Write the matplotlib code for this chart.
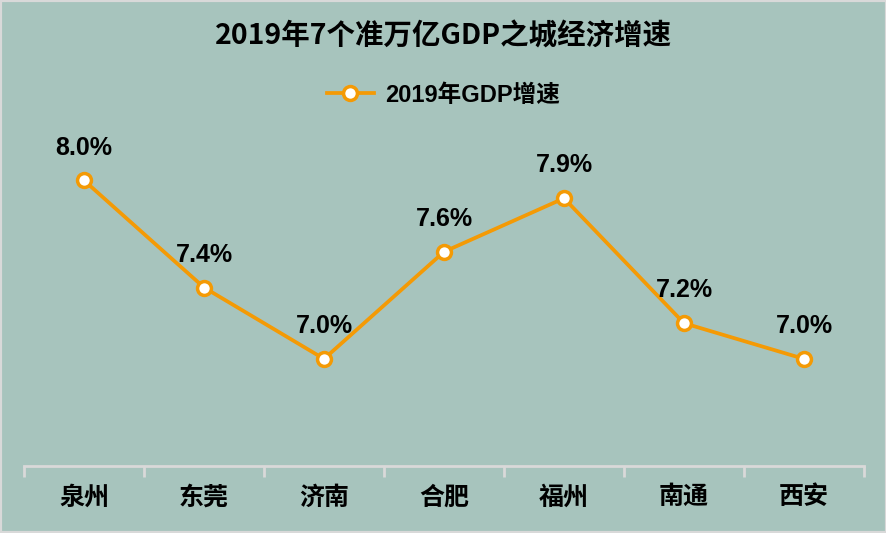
import matplotlib.pyplot as plt
from matplotlib.patches import Rectangle

plt.rcParams['font.family'] = ['Liberation Sans', 'Noto Sans CJK SC', 'DejaVu Sans']

# Dáta
cities = ["泉州", "东莞", "济南", "合肥", "福州", "南通", "西安"]
growth = [8.0, 7.4, 7.0, 7.6, 7.9, 7.2, 7.0]
series_name = "2019年GDP增速"
title = "2019年7个准万亿GDP之城经济增速"

bg = "#A7C4BD"
orange = "#F49A05"
grid_gray = "#D9D9D9"

fig = plt.figure(figsize=(8.87, 5.33), dpi=100)
fig.patch.set_facecolor(bg)
ax = fig.add_axes([24 / 887, 67 / 533, 840 / 887, (466 - 109) / 533])
ax.set_facecolor(bg)

x = list(range(len(cities)))
ax.plot(x, growth, color=orange, linewidth=2.7, marker='o', markersize=10,
        markerfacecolor='white', markeredgecolor=orange, markeredgewidth=2.5,
        label=series_name, zorder=3)

for xi, v in zip(x, growth):
    ax.annotate(f"{v:.1f}%", (xi, v), xytext=(0, 15), textcoords='offset points',
                ha='center', va='bottom', fontsize=18, fontweight='bold')

ax.set_xlim(-0.5, len(cities) - 0.5)
ax.set_ylim(6.4, 8.4)

# Os x: čiarky medzi kategóriami, popisy v strede
ax.set_xticks([i - 0.5 for i in range(len(cities) + 1)])
ax.set_xticklabels([])
ax.set_xticks(x, minor=True)
ax.set_xticklabels(cities, minor=True, fontsize=18, fontweight='bold',
                   family=['Noto Sans CJK SC'])
ax.tick_params(axis='x', which='major', length=8, width=2, color=grid_gray, direction='out')
ax.tick_params(axis='x', which='minor', length=0, pad=14)
ax.set_yticks([])

for s in ['top', 'left', 'right']:
    ax.spines[s].set_visible(False)
ax.spines['bottom'].set_color(grid_gray)
ax.spines['bottom'].set_linewidth(2)

fig.text(0.5, 1 - 37 / 533, title, ha='center', va='center', fontsize=20.5,
         fontweight='bold', family=['Noto Sans CJK SC'])

fig.legend(loc='center', bbox_to_anchor=(0.5, 1 - 95 / 533), frameon=False,
           prop={'family': ['Liberation Sans', 'Noto Sans CJK SC'], 'size': 17, 'weight': 'bold'},
           handlelength=2.0, handletextpad=0.5)

fig.add_artist(Rectangle((0, 0), 1, 1, transform=fig.transFigure, fill=False,
                         edgecolor=grid_gray, linewidth=3, clip_on=False))

fig.savefig("out.png", dpi=100, facecolor=bg)
